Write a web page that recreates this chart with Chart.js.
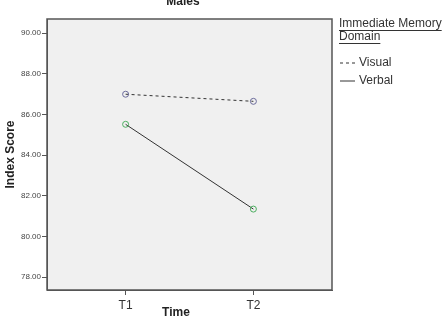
<!DOCTYPE html>
<html><head><meta charset="utf-8">
<script src="https://cdn.jsdelivr.net/npm/chart.js@4/dist/chart.umd.min.js"></script>
<style>html,body{margin:0;padding:0;background:#fff;}#wrap{width:445px;height:325px;}</style>
</head><body><div id="wrap"><canvas id="c" width="445" height="325"></canvas></div>
<script>
const timeLabels = ['T1', 'T2'];
const visualScores = [87.0, 86.65];
const verbalScores = [85.52, 81.35];
const yTicks = [78, 80, 82, 84, 86, 88, 90];
const chartTitle = 'Males';
const xTitle = 'Time';
const legendTitle = ['Immediate Memory', 'Domain'];

const bgPlugin = {
  id: 'bg',
  beforeDraw(chart) {
    const {ctx, chartArea: a} = chart;
    ctx.save();
    ctx.fillStyle = '#f0f0f0';
    ctx.fillRect(a.left, a.top, a.right - a.left, a.bottom - a.top);
    ctx.restore();
  },
  afterDraw(chart) {
    const {ctx, chartArea: a} = chart;
    ctx.save();
    ctx.strokeStyle = '#555';
    ctx.lineWidth = 1.5;
    ctx.strokeRect(a.left, a.top, a.right - a.left, a.bottom - a.top);
    // title (partly cut off at top)
    ctx.fillStyle = '#222';
    ctx.font = 'bold 12px "Liberation Sans", Arial, sans-serif';
    ctx.textAlign = 'center';
    ctx.textBaseline = 'alphabetic';
    ctx.fillText(chartTitle, 183, 5);
    // x axis title
    ctx.font = 'bold 12px "Liberation Sans", Arial, sans-serif';
    ctx.textBaseline = 'middle';
    ctx.fillText(xTitle, 176, 313);
    // legend
    const lx = 339;
    ctx.textAlign = 'left';
    ctx.textBaseline = 'middle';
    ctx.font = '12px "Liberation Sans", Arial, sans-serif';
    ctx.fillStyle = '#333';
    legendTitle.forEach((t, i) => {
      const yy = 24 + i * 13;
      ctx.fillText(t, lx, yy);
      const w = ctx.measureText(t).width;
      ctx.strokeStyle = '#333';
      ctx.lineWidth = 1;
      ctx.beginPath(); ctx.moveTo(lx, yy + 6.5); ctx.lineTo(lx + w, yy + 6.5); ctx.stroke();
    });
    chart.data.datasets.forEach((ds, i) => {
      const yy = 63 + i * 18;
      ctx.strokeStyle = '#333';
      ctx.lineWidth = 1;
      ctx.setLineDash(ds.borderDash || []);
      ctx.beginPath(); ctx.moveTo(lx + 1, yy); ctx.lineTo(lx + 16, yy); ctx.stroke();
      ctx.setLineDash([]);
      ctx.fillStyle = '#333';
      ctx.fillText(ds.label, lx + 20, yy);
    });
    ctx.restore();
  }
};

new Chart(document.getElementById('c'), {
  type: 'line',
  data: {
    datasets: [
      {
        label: 'Visual',
        data: visualScores.map((v, i) => ({x: i + 1, y: v})),
        borderColor: '#333',
        borderWidth: 1,
        borderDash: [3, 3],
        pointStyle: 'circle',
        pointRadius: 3,
        pointBorderWidth: 1,
        pointBorderColor: '#6b6b9b',
        pointBackgroundColor: 'rgba(0,0,0,0)'
      },
      {
        label: 'Verbal',
        data: verbalScores.map((v, i) => ({x: i + 1, y: v})),
        borderColor: '#333',
        borderWidth: 1,
        pointStyle: 'circle',
        pointRadius: 3,
        pointBorderWidth: 1,
        pointBorderColor: '#4caf60',
        pointBackgroundColor: 'rgba(0,0,0,0)'
      }
    ]
  },
  options: {
    responsive: false,
    animation: false,
    devicePixelRatio: 1,
    layout: {padding: {top: 19, right: 113, left: 0, bottom: 0}},
    plugins: {legend: {display: false}, tooltip: {enabled: false}, title: {display: false}},
    scales: {
      x: {
        type: 'linear',
        min: 0.385, max: 2.615,
        afterBuildTicks(s) { s.ticks = timeLabels.map((_, i) => ({value: i + 1})); },
        afterFit(s) { s.height = 35; },
        ticks: {
          callback: (v) => timeLabels[v - 1] || '',
          color: '#333',
          font: {family: '"Liberation Sans", Arial, sans-serif', size: 12},
          padding: 3,
          maxRotation: 0
        },
        grid: {drawOnChartArea: false, tickLength: 5, color: '#555'},
        border: {display: true, color: '#555'}
      },
      y: {
        min: 77.37, max: 90.7,
        afterBuildTicks(s) { s.ticks = yTicks.map(v => ({value: v})); },
        afterFit(s) { s.width = 47; },
        ticks: {
          callback: (v) => Number(v).toFixed(2),
          color: '#444',
          font: {family: '"Liberation Sans", Arial, sans-serif', size: 8},
          padding: 1
        },
        grid: {drawOnChartArea: false, tickLength: 5, color: '#555'},
        border: {display: true, color: '#555'},
        title: {display: true, text: 'Index Score', color: '#222', padding: {top: 3, bottom: 0},
          font: {family: '"Liberation Sans", Arial, sans-serif', size: 12, weight: 'bold'}}
      }
    }
  },
  plugins: [bgPlugin]
});
</script></body></html>
